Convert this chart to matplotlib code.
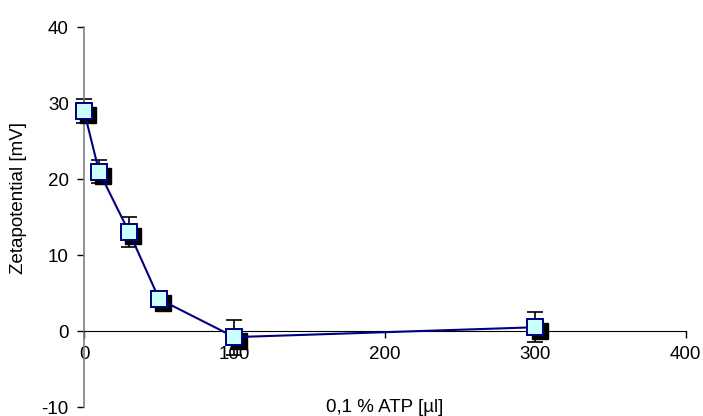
import matplotlib.pyplot as plt
from matplotlib import transforms

plt.rcParams['font.family'] = ['Liberation Sans', 'DejaVu Sans']
plt.rcParams['axes.unicode_minus'] = False

# data
atp = [0, 10, 30, 50, 100, 300]
zeta = [29.0, 21.0, 13.0, 4.2, -0.8, 0.5]
err = [1.6, 1.55, 2.0, 0.8, 2.3, 2.0]

fig = plt.figure(figsize=(7.03, 4.16), dpi=100)
ax = fig.add_axes([0.1195, 0.0216, 0.856, 0.913])

# error bars (behind the markers)
ax.errorbar(atp, zeta, yerr=err, fmt='none', ecolor='black',
            elinewidth=1.2, capsize=5.5, capthick=1.2, zorder=2, clip_on=False)

# shadow squares, offset down/right
shadow = transforms.offset_copy(ax.transData, fig=fig, x=3, y=-3, units='points')
ax.plot(atp, zeta, linestyle='none', marker='s', markersize=11.5,
        color='black', transform=shadow, zorder=3, clip_on=False)

ax.plot(atp, zeta, color='#000080', linewidth=1.5, zorder=4, clip_on=False)
ax.plot(atp, zeta, linestyle='none', marker='s', markersize=11.5,
        markerfacecolor='#CCFFFF', markeredgecolor='#000080',
        markeredgewidth=1.4, zorder=5, clip_on=False)

ax.set_xlim(0, 400)
ax.set_ylim(-10, 40)
ax.set_xticks([0, 100, 200, 300, 400])
ax.set_yticks([-10, 0, 10, 20, 30, 40])

ax.spines['top'].set_visible(False)
ax.spines['right'].set_visible(False)
ax.spines['bottom'].set_position(('data', 0))
ax.spines['bottom'].set_color('black')
ax.spines['left'].set_color('#808080')
ax.spines['left'].set_linewidth(1.2)

ax.tick_params(axis='both', direction='out', length=5, width=1,
               labelsize=13.5, color='black')
ax.tick_params(axis='x', pad=6)
ax.tick_params(axis='y', pad=6)

ax.set_xlabel('0,1 % ATP [µl]', fontsize=13.5)
ax.xaxis.set_label_coords(0.5, 0.022)
ax.set_ylabel('Zetapotential [mV]', fontsize=13.5)
ax.yaxis.set_label_coords(-0.095, 0.55)

fig.savefig('out.png', dpi=100)
